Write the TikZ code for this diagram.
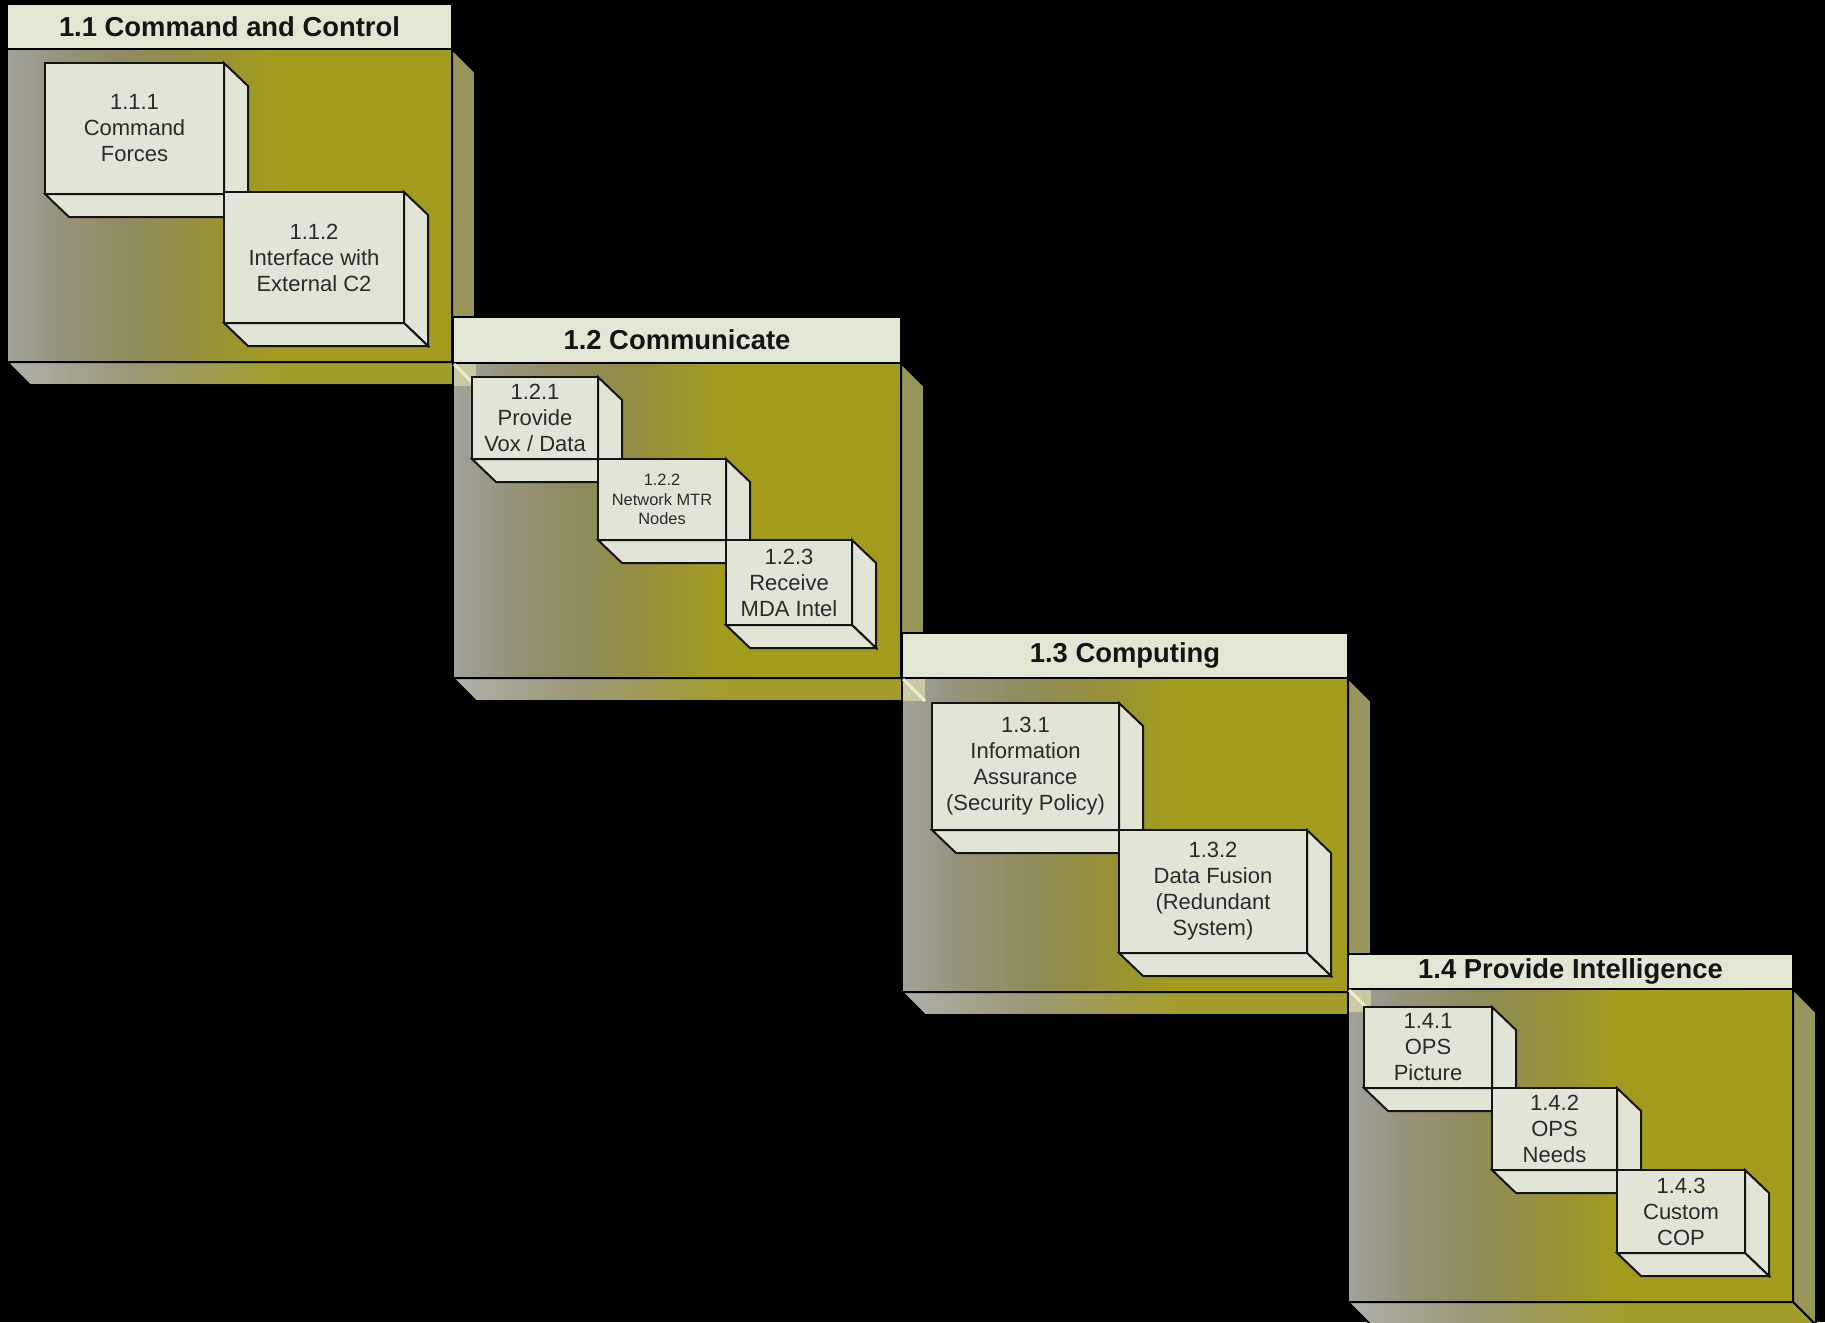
\documentclass[tikz,border=0pt]{standalone}
\usepackage{fontspec}
\setmainfont{Liberation Sans}
\usetikzlibrary{calc}

% palette
\definecolor{titlefill}{HTML}{E4E6D4}
\definecolor{cubefill}{HTML}{E2E5D5}
\definecolor{cubeink}{HTML}{2A2A2A}
\definecolor{titleink}{HTML}{141414}
\definecolor{pkgside}{HTML}{98955A}
\definecolor{pkgA}{HTML}{A2A29C}
\definecolor{pkgB}{HTML}{96937C}
\definecolor{pkgC}{HTML}{8E8B5C}
\definecolor{pkgD}{HTML}{968F3A}
\definecolor{pkgE}{HTML}{A19C1E}
\definecolor{floorA}{HTML}{B0B0AA}
\definecolor{floorB}{HTML}{9C9878}
\definecolor{floorC}{HTML}{A39E2C}
\definecolor{glow}{HTML}{DCDCA8}

% body and floor gradients (grey on the left, olive on the right)
\pgfdeclarehorizontalshading{pkgbody}{100bp}{color(0bp)=(pkgA); color(25bp)=(pkgA);
  color(31bp)=(pkgB); color(39bp)=(pkgC); color(47bp)=(pkgD); color(55bp)=(pkgE); color(100bp)=(pkgE)}
\pgfdeclarehorizontalshading{pkgfloor}{100bp}{color(0bp)=(floorA); color(25bp)=(floorA);
  color(38bp)=(floorB); color(54bp)=(floorC); color(100bp)=(floorC)}

\tikzset{
  pkgline/.style={draw=black, line width=1pt, line join=miter},
  cubeline/.style={draw=black!92, line width=1pt, line join=miter},
  pkgtitle/.style={font=\fontsize{13.7}{16}\selectfont\bfseries, text=titleink, inner sep=0pt},
  cubetext/.style={align=center, text=cubeink, font=\fontsize{11}{13}\selectfont, inner sep=0pt},
  smalltext/.style={font=\fontsize{8.2}{9.6}\selectfont},
}

% package: name, left, title top, body top, right, body bottom, title
\newcommand\pkgframe[7]{%
  \filldraw[pkgline, fill=pkgside] (#5,#4) -- (#5+23,#4+23) -- (#5+23,#6+23) -- (#5,#6) -- cycle;
  \shadedraw[pkgline, shading=pkgfloor] (#2,#6) -- (#5,#6) -- (#5+23,#6+23) -- (#2+23,#6+23) -- cycle;
  \shadedraw[pkgline, shading=pkgbody] (#2,#4) rectangle (#5,#6);
  \filldraw[pkgline, fill=titlefill] (#2,#3) rectangle (#5,#4);
  \node[pkgtitle] (#1) at ({(#2+#5)/2},{(#3+#4)/2}) {#7};
}

% faint glint where the previous package's extrusion meets a body corner
\newcommand\pkgglint[2]{%
  \fill[glow, opacity=.7] (#1+1,#2+1) rectangle (#1+23,#2+23);
  \draw[glow!50!white, line width=1.5pt] (#1+1,#2+1) -- (#1+23,#2+23);
}

% 3-D box: [text style], name, left, top, right, bottom, text
\newcommand\cubebox[7][]{%
  \filldraw[cubeline, fill=cubefill] (#5,#4) -- (#5+24,#4+23) -- (#5+24,#6+23) -- (#5,#6) -- cycle;
  \filldraw[cubeline, fill=cubefill] (#3,#6) -- (#5,#6) -- (#5+24,#6+23) -- (#3+24,#6+23) -- cycle;
  \filldraw[cubeline, fill=cubefill] (#3,#4) rectangle (#5,#6);
  \node[cubetext, #1] (#2) at ({(#3+#5)/2},{(#4+#6)/2}) {#7};
}

\begin{document}
\begin{tikzpicture}[x=0.5pt, y=-0.5pt]
  \useasboundingbox (0,0) rectangle (1825,1322);
  \fill[black] (0,0) rectangle (1825,1322);
  \clip (0,0) rectangle (1825,1322);

  % 1.1
  \pkgframe{p11}{7}{4}{49}{452}{362}{1.1 Command and Control}
  \cubebox{b111}{45}{63}{224}{194}{1.1.1\\Command\\Forces}
  \cubebox{b112}{224}{192}{404}{323}{1.1.2\\Interface with\\External C2}

  % 1.2
  \pkgframe{p12}{453}{317}{363}{901}{678}{1.2 Communicate}
  \pkgglint{453}{363}
  \cubebox{b121}{472}{377}{598}{459}{1.2.1\\Provide\\Vox / Data}
  \cubebox[smalltext]{b122}{598}{459}{726}{540}{1.2.2\\Network MTR\\Nodes}
  \cubebox{b123}{726}{540}{852}{625}{1.2.3\\Receive\\MDA Intel}

  % 1.3
  \pkgframe{p13}{902}{633}{678}{1348}{992}{1.3 Computing}
  \pkgglint{902}{678}
  \cubebox{b131}{932}{703}{1119}{830}{1.3.1\\Information\\Assurance\\(Security Policy)}
  \cubebox{b132}{1119}{830}{1307}{953}{1.3.2\\Data Fusion\\(Redundant\\System)}

  % 1.4
  \pkgframe{p14}{1348}{954}{989}{1793}{1302}{1.4 Provide Intelligence}
  \pkgglint{1348}{989}
  \cubebox{b141}{1364}{1007}{1492}{1088}{1.4.1\\OPS\\Picture}
  \cubebox{b142}{1492}{1088}{1617}{1170}{1.4.2\\OPS\\Needs}
  \cubebox{b143}{1617}{1170}{1745}{1253}{1.4.3\\Custom\\COP}
\end{tikzpicture}
\end{document}
